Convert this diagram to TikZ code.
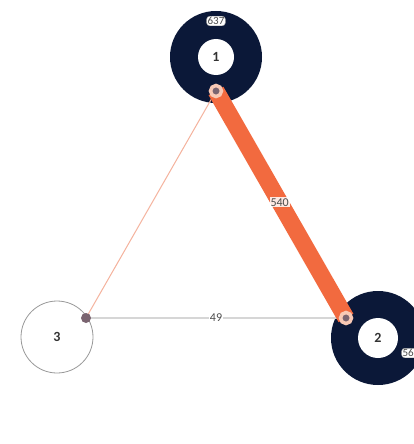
\documentclass[tikz,border=0pt]{standalone}
\usepackage{fontspec}
\setmainfont{Carlito}
\definecolor{navy}{HTML}{0B1838}
\definecolor{edgeor}{HTML}{F26A3F}
\definecolor{thinor}{HTML}{F5B39E}
\definecolor{thingr}{HTML}{D6D6D6}
\definecolor{dotgr}{HTML}{7A6470}
\definecolor{ring}{HTML}{F8C9B5}
\begin{document}
\begin{tikzpicture}[x=1pt,y=-1pt,
  outer/.style={circle,fill=navy,minimum size=92pt,inner sep=0pt},
  inner/.style={circle,fill=white,minimum size=36pt,inner sep=0pt,font=\fontsize{14}{15}\selectfont\bfseries,text=black!80},
  plain/.style={circle,draw=black!40,line width=0.8pt,fill=white,minimum size=72pt,inner sep=0pt,font=\fontsize{14}{15}\selectfont\bfseries,text=black!80},
  port/.style={circle,fill=dotgr,draw=ring,line width=3.5pt,minimum size=11pt,inner sep=0pt},
  wlabel/.style={fill=white,fill opacity=0.85,text opacity=1,inner sep=1pt,font=\fontsize{12}{13}\selectfont,text=black!70},
  tag/.style={draw=black!40,fill=white,rounded corners=3pt,inner sep=1pt,font=\fontsize{11}{12}\selectfont,text=black!70}
]
\useasboundingbox (0,0) rectangle (413,444);
\fill[white] (0,0) rectangle (413,444);
% nodes
\node[outer] (o1) at (216,57) {};
\node[inner] (n1) at (216,57) {1};
\node[tag] (t1) at (216,21) {637};
\node[outer,minimum size=94pt] (o2) at (378,338) {};
\node[inner,minimum size=40pt] (n2) at (378,338) {2};
\node[tag] (t2) at (411,353) {564};
\node[plain] (n3) at (57,337) {3};
% ports
\coordinate (p1) at (216,91);
\coordinate (p2) at (346,318);
\coordinate (p3) at (86,318);
% edges
\draw[thinor,line width=1pt] (p1) -- (p3);
\draw[thingr,line width=1.2pt] (p3) -- node[wlabel,fill opacity=1] (l32) {49} (p2);
\draw[edgeor,line width=17pt] (p1) -- node[wlabel,pos=0.49] (l12) {540} (p2);
\node[port] (q1) at (p1) {};
\node[port] (q2) at (p2) {};
\node[circle,fill=dotgr,minimum size=10pt,inner sep=0pt] (q3) at (p3) {};
\end{tikzpicture}
\end{document}
